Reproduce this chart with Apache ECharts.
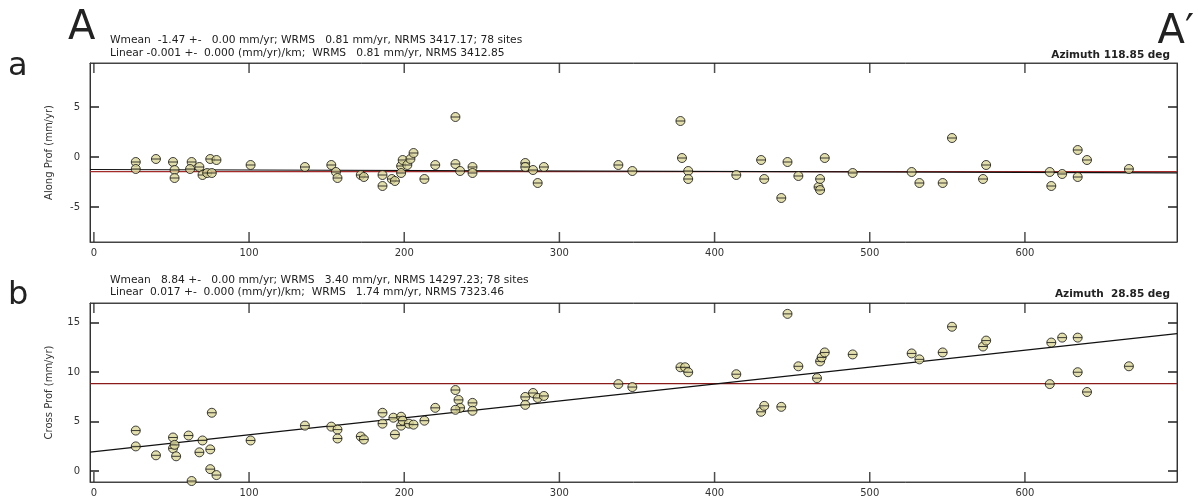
<!DOCTYPE html>
<html>
<head>
<meta charset="utf-8">
<script src="https://cdn.jsdelivr.net/npm/echarts@6/dist/echarts.min.js"></script>
<style>
html,body{margin:0;padding:0;background:#fff;}
#chart{width:1198px;height:504px;}
</style>
</head>
<body>
<div id="chart"></div>
<script>
// ---- data (distance along profile in km, velocity in mm/yr) ----
const alongDist = [27,27,40,51,52,52,63,62,68,70,75,73,76,79,101,136,153,156,157,172,174,186,186,192,194,198,198,199,202,204,206,213,220,233,233,236,244,244,278,278,283,286,290,338,347,378,379,383,383,414,430,432,443,447,454,467,468,468,471,489,527,532,547,553,573,575,616,617,624,634,634,640,667];
const alongVel = [-0.5,-1.2,-0.2,-0.5,-1.3,-2.1,-0.5,-1.2,-1.0,-1.8,-0.2,-1.6,-1.6,-0.3,-0.8,-1.0,-0.8,-1.5,-2.1,-1.8,-2.0,-1.8,-2.9,-2.2,-2.4,-0.9,-1.6,-0.3,-0.8,-0.2,0.4,-2.2,-0.8,4.0,-0.7,-1.4,-1.0,-1.6,-0.6,-1.0,-1.3,-2.6,-1.0,-0.8,-1.4,3.6,-0.1,-1.4,-2.2,-1.8,-0.3,-2.2,-4.1,-0.5,-1.9,-3.0,-2.2,-3.3,-0.1,-1.6,-1.5,-2.6,-2.6,1.9,-2.2,-0.8,-1.5,-2.9,-1.7,0.7,-2.0,-0.3,-1.2];
const crossDist = [27,27,40,51,51,52,53,61,63,68,70,75,75,76,79,101,136,153,157,157,172,174,186,186,193,194,198,198,199,203,206,213,220,233,235,236,233,244,244,278,278,283,286,290,338,347,378,381,383,414,430,432,443,447,454,466,468,469,471,489,527,532,547,553,573,575,616,617,624,634,634,640,667];
const crossVel = [4.1,2.5,1.6,3.4,2.3,2.65,1.5,3.6,-1.0,1.9,3.1,2.2,0.2,5.9,-0.4,3.1,4.6,4.5,4.2,3.3,3.5,3.2,5.9,4.8,5.4,3.7,5.5,4.6,5.1,4.8,4.7,5.1,6.4,8.2,7.2,6.4,6.2,6.9,6.1,7.5,6.7,7.9,7.4,7.6,8.8,8.5,10.5,10.5,10.0,9.8,6.0,6.6,6.5,15.9,10.6,9.4,11.1,11.5,12.0,11.8,11.9,11.3,12.0,14.6,12.6,13.2,8.8,13.0,13.5,10.0,13.5,8.0,10.6];

// fitted lines (endpoints of the profile range)
const fitX = [-2.5, 698];
const alongMean = [-1.47, -1.47];
const alongLinear = [-1.25, -1.58];
const crossMean = [8.84, 8.84];
const crossLinear = [1.93, 13.9];

// axis ranges and tick values
const alongRange = [-8.5, 9.4];
const crossRange = [-1.1, 17.0];
const xTicks = [0,100,200,300,400,500,600];
const alongTicks = [-5,0,5];
const crossTicks = [0,5,10,15];

// header texts
const alongHead1 = 'Wmean  -1.47 +-   0.00 mm/yr; WRMS   0.81 mm/yr, NRMS 3417.17; 78 sites';
const alongHead2 = 'Linear -0.001 +-  0.000 (mm/yr)/km;  WRMS   0.81 mm/yr, NRMS 3412.85';
const alongAz = 'Azimuth 118.85 deg';
const crossHead1 = 'Wmean   8.84 +-   0.00 mm/yr; WRMS   3.40 mm/yr, NRMS 14297.23; 78 sites';
const crossHead2 = 'Linear  0.017 +-  0.000 (mm/yr)/km;  WRMS   1.74 mm/yr, NRMS 7323.46';
const crossAz = 'Azimuth  28.85 deg';

// ---- chart ----
const FONT = 'DejaVu Sans';
const TICK = '#222';
const zip = (a, b) => a.map((v, i) => [v, b[i]]);
const markerPath = 'path://M0,10 A10,10 0 1 1 20,10 A10,10 0 1 1 0,10 Z M0,10 L20,10';

function xAx(grid, pos, labels) {
  return {
    type: 'value', gridIndex: grid, position: pos, min: fitX[0], max: fitX[1],
    axisLine: { show: true, onZero: false, lineStyle: { color: '#444', width: 1 } },
    axisTick: { show: false },
    axisLabel: { show: labels, customValues: xTicks, fontFamily: FONT, fontSize: 10, color: '#333', margin: 6 },
    splitLine: { show: false }
  };
}
function yAx(grid, pos, range, ticks, name) {
  return {
    type: 'value', gridIndex: grid, position: pos, min: range[0], max: range[1],
    name: name || '', nameLocation: 'middle', nameGap: 36,
    nameTextStyle: { fontFamily: FONT, fontSize: 10, color: '#333' },
    axisLine: { show: true, onZero: false, lineStyle: { color: '#333', width: 1 } },
    axisTick: { show: true, inside: true, length: 9, customValues: ticks, lineStyle: { color: TICK, width: 1.5 } },
    axisLabel: { show: !!name, customValues: ticks, fontFamily: FONT, fontSize: 10, color: '#333', margin: 10 },
    splitLine: { show: false }
  };
}
function scatter(xi, yi, xs, ys) {
  return {
    type: 'scatter', xAxisIndex: xi, yAxisIndex: yi, data: zip(xs, ys),
    symbol: markerPath, symbolSize: 9, z: 5,
    itemStyle: { color: '#dcd797', borderColor: '#111', borderWidth: 1 }
  };
}
function line(xi, yi, ys, color) {
  return {
    type: 'line', xAxisIndex: xi, yAxisIndex: yi, data: zip(fitX, ys),
    symbol: 'none', lineStyle: { color: color, width: 1.2 }, z: 3, silent: true
  };
}
// x-axis tick marks at the bottom (edge = 0) or top (edge = 1) of a panel, placed by the axis scales
function xTickMarks(xi, yi, range, edge) {
  return {
    type: 'scatter', xAxisIndex: xi, yAxisIndex: yi, silent: true, clip: false, z: 6,
    data: xTicks.map(v => [v, range[edge]]),
    symbol: 'rect', symbolSize: [1.5, 10], symbolOffset: [0, edge === 0 ? -5 : 5],
    itemStyle: { color: TICK, borderWidth: 0 }
  };
}
function txt(props, text, size, weight) {
  return Object.assign({
    type: 'text',
    style: { text: text, fontFamily: FONT, fontSize: size, fontWeight: weight || 'normal', fill: '#222' }
  }, props);
}

const chart = echarts.init(document.getElementById('chart'));
chart.setOption({
  animation: false,
  grid: [
    { left: 90, right: 21, top: 63, height: 179, show: true, borderColor: '#444', borderWidth: 1 },
    { left: 90, right: 21, top: 303, height: 179, show: true, borderColor: '#444', borderWidth: 1 }
  ],
  xAxis: [xAx(0, 'bottom', true), xAx(0, 'top', false), xAx(1, 'bottom', true), xAx(1, 'top', false)],
  yAxis: [
    yAx(0, 'left', alongRange, alongTicks, 'Along Prof (mm/yr)'),
    yAx(0, 'right', alongRange, alongTicks, null),
    yAx(1, 'left', crossRange, crossTicks, 'Cross Prof (mm/yr)'),
    yAx(1, 'right', crossRange, crossTicks, null)
  ],
  series: [
    xTickMarks(0, 0, alongRange, 0),
    xTickMarks(0, 0, alongRange, 1),
    line(0, 0, alongMean, '#a52a2a'),
    line(0, 0, alongLinear, '#111'),
    scatter(0, 0, alongDist, alongVel),
    xTickMarks(2, 2, crossRange, 0),
    xTickMarks(2, 2, crossRange, 1),
    line(2, 2, crossMean, '#8b1a1a'),
    line(2, 2, crossLinear, '#111'),
    scatter(2, 2, crossDist, crossVel)
  ],
  graphic: [
    txt({ left: 68, top: 9 }, 'A', 40),
    txt({ right: 4, top: 13 }, 'A\u2032', 40),
    txt({ left: 8, top: 51 }, 'a', 32),
    txt({ left: 8, top: 280 }, 'b', 32),
    txt({ left: 110, top: 35 }, alongHead1, 10.7),
    txt({ left: 110, top: 48 }, alongHead2, 10.7),
    txt({ right: 28, top: 50 }, alongAz, 10.5, 'bold'),
    txt({ left: 110, top: 275 }, crossHead1, 10.7),
    txt({ left: 110, top: 287 }, crossHead2, 10.7),
    txt({ right: 28, top: 289 }, crossAz, 10.5, 'bold')
  ]
});
</script>
</body>
</html>
